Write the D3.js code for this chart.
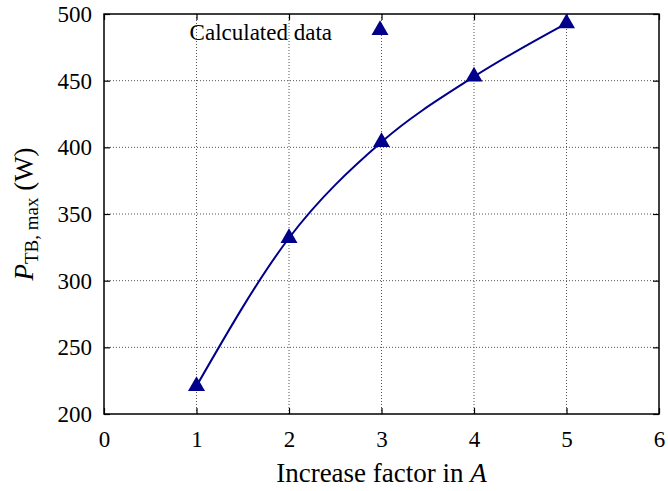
<!DOCTYPE html>
<html>
<head>
<meta charset="utf-8">
<script src="https://cdn.jsdelivr.net/npm/d3@7"></script>
<style>
  body { margin: 0; background: #fff; }
  text { font-family: "Liberation Serif", "DejaVu Serif", serif; fill: #000; }
</style>
</head>
<body>
<div id="display"></div>
<script>
// data
let factors = [1, 2, 3, 4, 5];
let power = [221, 332, 404, 453, 493];
let xTicks = [0, 1, 2, 3, 4, 5, 6];
let yTicks = [200, 250, 300, 350, 400, 450, 500];

let W = 668, H = 491;
let margin = {top: 14, right: 9, bottom: 77, left: 104};
let width = W - margin.left - margin.right;
let height = H - margin.top - margin.bottom;
let blue = '#00008b';

let svg = d3.select('#display')
  .append('svg')
    .attr('width', W)
    .attr('height', H);

let g = svg.append('g')
  .attr('transform', 'translate(' + margin.left + ',' + margin.top + ')');

let xScale = d3.scaleLinear().domain([0, 6]).range([0, width]);
let yScale = d3.scaleLinear().domain([200, 500]).range([height, 0]);

// grid
g.append('g')
  .selectAll('line')
  .data(xTicks.slice(1, -1))
  .join('line')
    .attr('x1', d => xScale(d)).attr('x2', d => xScale(d))
    .attr('y1', 0).attr('y2', height)
    .attr('stroke', '#555').attr('stroke-width', 1).attr('stroke-dasharray', '1,2');
g.append('g')
  .selectAll('line')
  .data(yTicks.slice(1, -1))
  .join('line')
    .attr('y1', d => yScale(d)).attr('y2', d => yScale(d))
    .attr('x1', 0).attr('x2', width)
    .attr('stroke', '#555').attr('stroke-width', 1).attr('stroke-dasharray', '1,2');

// axes with inward ticks, mirrored
let axFont = '23px';
let xAxis = g.append('g')
  .attr('transform', 'translate(0,' + height + ')')
  .call(d3.axisBottom(xScale).tickValues(xTicks).tickSize(-6).tickPadding(17).tickFormat(d3.format('d')));
let yAxis = g.append('g')
  .call(d3.axisLeft(yScale).tickValues(yTicks).tickSize(-6).tickPadding(12).tickFormat(d3.format('d')));
g.append('g')
  .call(d3.axisTop(xScale).tickValues(xTicks).tickSize(-6).tickFormat(''));
g.append('g')
  .attr('transform', 'translate(' + width + ',0)')
  .call(d3.axisRight(yScale).tickValues(yTicks).tickSize(-6).tickFormat(''));

g.selectAll('.domain').remove();
g.selectAll('.tick line').attr('stroke', '#000').attr('stroke-width', 1.2);
xAxis.selectAll('text').style('font-size', axFont).style('font-family', '"Liberation Serif", serif');
yAxis.selectAll('text').style('font-size', axFont).style('font-family', '"Liberation Serif", serif');

// frame
g.append('rect')
  .attr('width', width).attr('height', height)
  .attr('fill', 'none').attr('stroke', '#000').attr('stroke-width', 1.5);

// curve
let pts = factors.map((f, i) => ({x: f, y: power[i]}));
g.append('path')
  .datum(pts)
  .attr('fill', 'none')
  .attr('stroke', blue)
  .attr('stroke-width', 2)
  .attr('d', d3.line().x(d => xScale(d.x)).y(d => yScale(d.y)).curve(d3.curveMonotoneX));

// markers
let tri = d3.symbol().type(d3.symbolTriangle).size(125);
g.append('g')
  .selectAll('path')
  .data(pts)
  .join('path')
    .attr('transform', d => 'translate(' + xScale(d.x) + ',' + yScale(d.y) + ')')
    .attr('d', tri)
    .attr('fill', blue);

// legend
g.append('text')
  .attr('x', 228).attr('y', 26)
  .attr('text-anchor', 'end')
  .style('font-size', '23px')
  .text('Calculated data');
g.append('path')
  .attr('transform', 'translate(276,16)')
  .attr('d', tri)
  .attr('fill', blue);

// axis labels
let xl = svg.append('text')
  .attr('x', margin.left + width / 2)
  .attr('y', 482)
  .attr('text-anchor', 'middle')
  .style('font-size', '27px');
xl.append('tspan').text('Increase factor in ');
xl.append('tspan').style('font-style', 'italic').text('A');

let yl = svg.append('text')
  .attr('transform', 'translate(33,' + (margin.top + height / 2) + ') rotate(-90)')
  .attr('text-anchor', 'middle')
  .style('font-size', '27px');
yl.append('tspan').style('font-style', 'italic').text('P');
yl.append('tspan').attr('dy', 5).style('font-size', '19px').text('TB, max');
yl.append('tspan').attr('dy', -5).text(' (W)');
</script>
</body>
</html>
